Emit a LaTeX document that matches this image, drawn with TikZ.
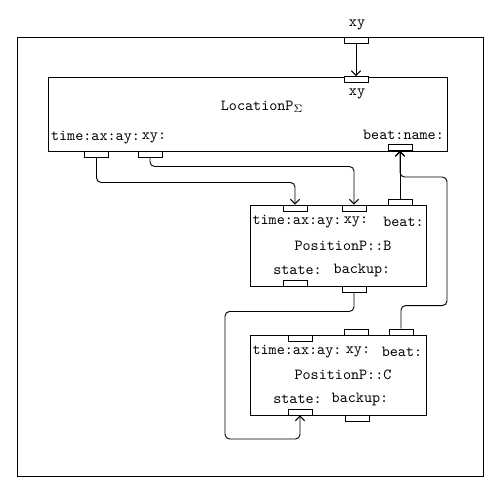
\documentclass[tikz,border=0pt]{standalone}
\usetikzlibrary{arrows.meta}
\tikzset{
  box/.style={draw,semithick,inner sep=0pt},
  port/.style={draw,semithick,fill=white,minimum width=15.6pt,minimum height=3.9pt,inner sep=0pt},
  lbl/.style={font=\ttfamily,inner sep=0pt},
  wire/.style={semithick,rounded corners=3pt,-{Straight Barb[length=3pt,width=6pt]}}
}

\begin{document}
\begin{tikzpicture}[x=0.65pt,y=-0.65pt]
\useasboundingbox (0,0) rectangle (500,494);

% outer frame
\node [box,minimum width=302.9pt,minimum height=285.35pt] (frame) at (250,256.5) {};
\node [port] (fxy) at (356,40) {};
\node [lbl] (fxylbl) at (357,25) {xy};

% LocationP box
\node [box,minimum width=259.35pt,minimum height=48.1pt] (loc) at (247.5,114) {};
\node [port] (lxyin) at (356,79.5) {};
\node [port] (ltime) at (96.5,154) {};
\node [port] (lxy) at (150,154) {};
\node [port] (lbeat) at (400,147.5) {};
\node [lbl] (lxyinlbl) at (357,94) {xy};
\node [lbl] (locname) at (262,107) {LocationP$_\Sigma$};
\node [lbl] (ltimelbl) at (95.5,138) {time:ax:ay:};
\node [lbl] (lxylbl) at (154,138) {xy:};
\node [lbl] (lbeatlbl) at (403.5,135) {beat:name:};

% PositionP::B box
\node [box,minimum width=114.4pt,minimum height=52.65pt] (posb) at (338,245.5) {};
\node [port] (btime) at (295,208) {};
\node [port] (bxy) at (354,208) {};
\node [port] (bbeat) at (400,202) {};
\node [port] (bstate) at (295,283) {};
\node [port] (bbackup) at (354,289) {};
\node [lbl] (btimelbl) at (297,222) {time:ax:ay:};
\node [lbl] (bxylbl) at (356,222) {xy:};
\node [lbl] (bbeatlbl) at (403.5,222) {beat:};
\node [lbl] (bname) at (343,246) {PositionP::B};
\node [lbl] (bstatelbl) at (297.5,270) {state:};
\node [lbl] (bbackuplbl) at (362,270) {backup:};

% PositionP::C box
\node [box,minimum width=114.4pt,minimum height=52pt] (posc) at (338,375) {};
\node [port] (ctime) at (300,338) {};
\node [port] (cxy) at (356,332) {};
\node [port] (cbeat) at (401,332) {};
\node [port] (cstate) at (300,412) {};
\node [port] (cbackup) at (357,418) {};
\node [lbl] (ctimelbl) at (297,352) {time:ax:ay:};
\node [lbl] (cxylbl) at (358,352) {xy:};
\node [lbl] (cbeatlbl) at (402,352) {beat:};
\node [lbl] (cname) at (343,375) {PositionP::C};
\node [lbl] (cstatelbl) at (297.5,399) {state:};
\node [lbl] (cbackuplbl) at (360,399) {backup:};

% wires
\draw [wire] (fxy.south) -- (lxyin.north);
\draw [wire] (ltime.south) -- ++(0,25) -| (btime.north);
\draw [wire] (lxy.south) -- ++(0,9) -| (bxy.north);
\draw [wire] (bbeat.north) -- (lbeat.south);
\draw [wire] (cbeat.north) -- ++(0,-23) -| (447,177) -| (lbeat.south);
\draw [wire] (bbackup.south) -- ++(0,19) -| (225,439) -| (cstate.south);

\end{tikzpicture}
\end{document}
